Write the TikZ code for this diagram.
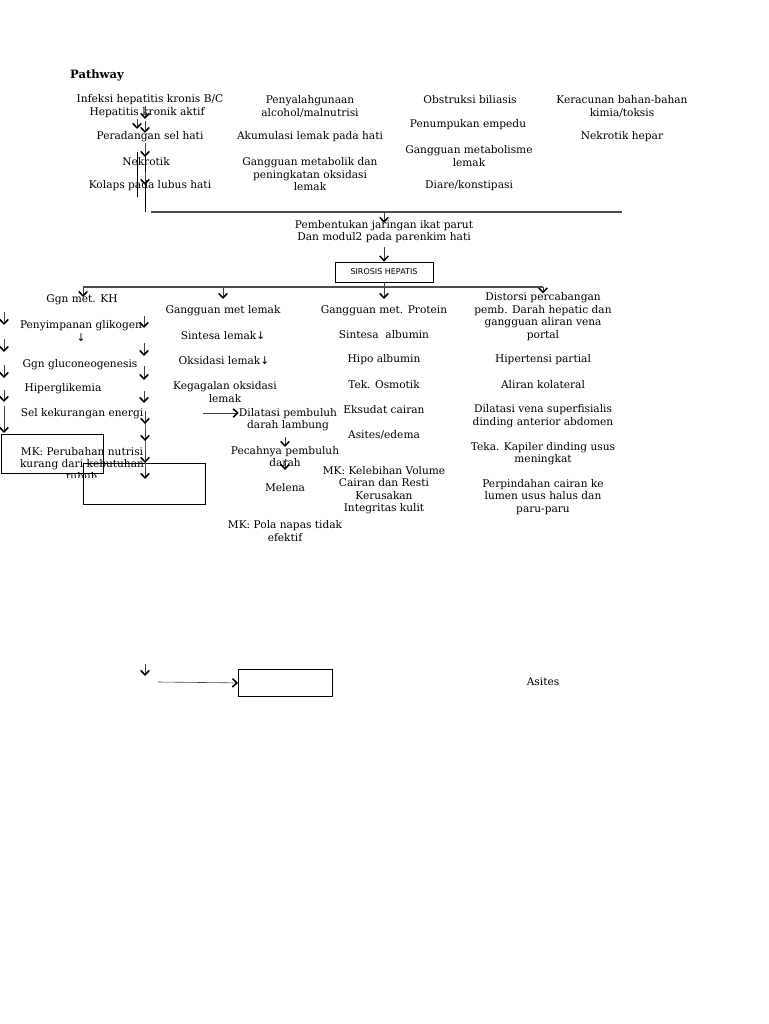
\documentclass[tikz,border=0pt]{standalone}
\usepackage{fontspec}
\setmainfont{DejaVu Serif}
\newfontfamily\sansf{DejaVu Sans}
\usetikzlibrary{arrows.meta}
\begin{document}
\begin{tikzpicture}[x=1pt,y=-1pt,
  every node/.style={inner sep=0pt, font=\fontsize{10.6}{12.5}\selectfont, align=center},
  arr/.style={draw=black!75, line width=0.6pt, -{Straight Barb[length=4.5pt,width=8.5pt,line width=1.5pt,color=black]}},
  ln/.style={draw=black!70, line width=1pt},
  boxr/.style={draw=black, line width=0.8pt}]
\useasboundingbox[fill=white] (0,0) rectangle (768,1024);

% title
\node[font=\bfseries\fontsize{11.5}{13}\selectfont, anchor=west] (title) at (70,75) {Pathway};

% column 1 (top)
\node (inf) at (150,100) {Infeksi hepatitis kronis B/C};
\node (hep) at (147,113) {Hepatitis kronik aktif};
\node (per) at (150,137) {Peradangan sel hati};
\node (nek) at (146,162) {Nekrotik};
\node (kol) at (150,186) {Kolaps pada lubus hati};

% column 2 (top)
\node (peny) at (310,106.5) {Penyalahgunaan\\alcohol/malnutrisi};
\node (aku) at (310,137) {Akumulasi lemak pada hati};
\node (gmet) at (310,174.5) {Gangguan metabolik dan\\peningkatan oksidasi\\lemak};

% column 3 (top)
\node (obs) at (470,100) {Obstruksi biliasis};
\node (penu) at (468,125) {Penumpukan empedu};
\node (gmls) at (469,156) {Gangguan metabolisme\\lemak};
\node (dia) at (469,186) {Diare/konstipasi};

% column 4 (top)
\node (kerac) at (622,106.5) {Keracunan bahan-bahan\\kimia/toksis};
\node (nekh) at (622,137) {Nekrotik hepar};

% top lines
\coordinate (v1a) at (145,145); \coordinate (v1b) at (145,212);
\coordinate (v2a) at (137,152); \coordinate (v2b) at (137,197);
\coordinate (hTL) at (151,212); \coordinate (hTR) at (622,212);
\coordinate (hTM) at (384,212);
\draw[ln, line width=0.8pt, draw=black] (v1a) -- (v1b);
\draw[ln, line width=0.8pt, draw=black] (v2a) -- (v2b);
\draw[ln, line width=1.5pt] (hTL) -- (hTR);

% center chain
\node (pemb) at (384,231.5) {Pembentukan jaringan ikat parut\\Dan modul2 pada parenkim hati};
\node[boxr, minimum width=98pt, minimum height=20pt] (sir) at (384,272) {\sansf\fontsize{8}{9}\selectfont SIROSIS HEPATIS};
\draw[arr] (hTM) -- ([yshift=-3pt]pemb.north);
\draw[arr] ([yshift=-4pt]pemb.south) -- (sir.north);

% second horizontal
\coordinate (hBL) at (83,287); \coordinate (hBR) at (543,287);
\draw[ln, line width=1.2pt] (hBL) -- (hBR);

% column A: KH
\node (kh) at (82,300) {Ggn met. KH};
\node (glik) at (81,331) {Penyimpanan glikogen\\{\sansf ↓}};
\node (gluc) at (80,365) {Ggn gluconeogenesis};
\node (hipg) at (63,389) {Hiperglikemia};
\node (sel) at (82,414) {Sel kekurangan energi};
\node[boxr, minimum width=102pt, minimum height=39pt, anchor=north west] (boxA) at (0.5,434) {};
\begin{scope}
\clip (0,440) rectangle (200,477.5);
\node (mkA) at (82,464) {MK: Perubahan nutrisi\\kurang dari kebutuhan\\tubuh};
\end{scope}

% column B: lemak
\node (lem) at (223,311) {Gangguan met lemak};
\node (sint) at (223,336) {Sintesa lemak{\sansf ↓}};
\node (oks) at (224,361) {Oksidasi lemak{\sansf ↓}};
\node (keg) at (225,392) {Kegagalan oksidasi\\lemak};
\node (dil) at (288,419.5) {Dilatasi pembuluh\\darah lambung};
\node (pec) at (285,456.5) {Pecahnya pembuluh\\darah};
\node (mel) at (285,488) {Melena};
\node (mkB) at (285,531) {MK: Pola napas tidak\\efektif};
\node[boxr, minimum width=122pt, minimum height=41pt, anchor=north west] (boxB) at (83,463) {};

% column C: protein
\node (prot) at (384,311) {Gangguan met. Protein};
\node (alb) at (384,335) {Sintesa\ \ albumin};
\node (hipo) at (384,360) {Hipo albumin};
\node (tek) at (384,385) {Tek. Osmotik};
\node (eks) at (384,410) {Eksudat cairan};
\node (asi) at (384,435) {Asites/edema};
\node (mkC) at (384,490) {MK: Kelebihan Volume\\Cairan dan Resti\\Kerusakan\\Integritas kulit};

% column D
\node (dist) at (543,316.5) {Distorsi percabangan\\pemb. Darah hepatic dan\\gangguan aliran vena\\portal};
\node (hipt) at (543,360) {Hipertensi partial};
\node (alir) at (543,385) {Aliran kolateral};
\node (dilv) at (543,416) {Dilatasi vena superfisialis\\dinding anterior abdomen};
\node (kap) at (543,453.5) {Teka. Kapiler dinding usus\\meningkat};
\node (perp) at (543,497) {Perpindahan cairan ke\\lumen usus halus dan\\paru-paru};

% branch arrows from second horizontal
\coordinate (bB) at (223,287); \coordinate (bD) at (543,287);
\draw[arr] (hBL) -- (83,297);
\draw[arr] (bB) -- (223,299);
\draw[arr] (sir.south) -- (384,299);
\draw[arr] (bD) -- (543,293.5);

% horizontal arrow to Dilatasi
\coordinate (hd) at (203,413);
\draw[arr] (hd) -- (dil.west |- hd);

% arrows inside Pecahnya
\draw[arr] (285,437) -- (285,447);
\draw[arr] (285,459) -- (285,470);

% small stray arrows, top column 1
\foreach \i/\x/\ya/\yb in {t1/145/106/119, t2/137/119/129, t3/145/121/133, t4/145/143/157, t5/145/172/185}{
  \coordinate (s\i) at (\x,\ya); \coordinate (e\i) at (\x,\yb);
  \draw[arr] (s\i) -- (e\i);
}

% left edge arrows
\foreach \i/\x/\ya/\yb in {l1/4/312/325, l2/4/339/352, l3/4/365/378, l4/4/390/402, l5/4/406/433}{
  \coordinate (s\i) at (\x,\ya); \coordinate (e\i) at (\x,\yb);
  \draw[arr] (s\i) -- (e\i);
}

% column x=145 arrows
\coordinate (vmA) at (145,413); \coordinate (vmB) at (145,470);
\draw[draw=black!60, line width=0.5pt] (vmA) -- (vmB);
\foreach \i/\x/\ya/\yb in {m1/144/316/328, m2/144/343/356, m3/144/366/380, m4/144/391/403, m5/145/411/424, m6/145/429/441, m7/145/451/463, m8/145/467/479}{
  \coordinate (s\i) at (\x,\ya); \coordinate (e\i) at (\x,\yb);
  \draw[arr] (s\i) -- (e\i);
}

% bottom
\coordinate (sb1) at (145,664); \coordinate (eb1) at (145,676);
\draw[arr] (sb1) -- (eb1);
\node[boxr, minimum width=94pt, minimum height=27pt, anchor=north west] (boxC) at (238,669) {};
\coordinate (sb2) at (158,682);
\draw[arr] (sb2) -- (boxC.west);
\node (asit) at (543,682) {Asites};
\end{tikzpicture}
\end{document}
